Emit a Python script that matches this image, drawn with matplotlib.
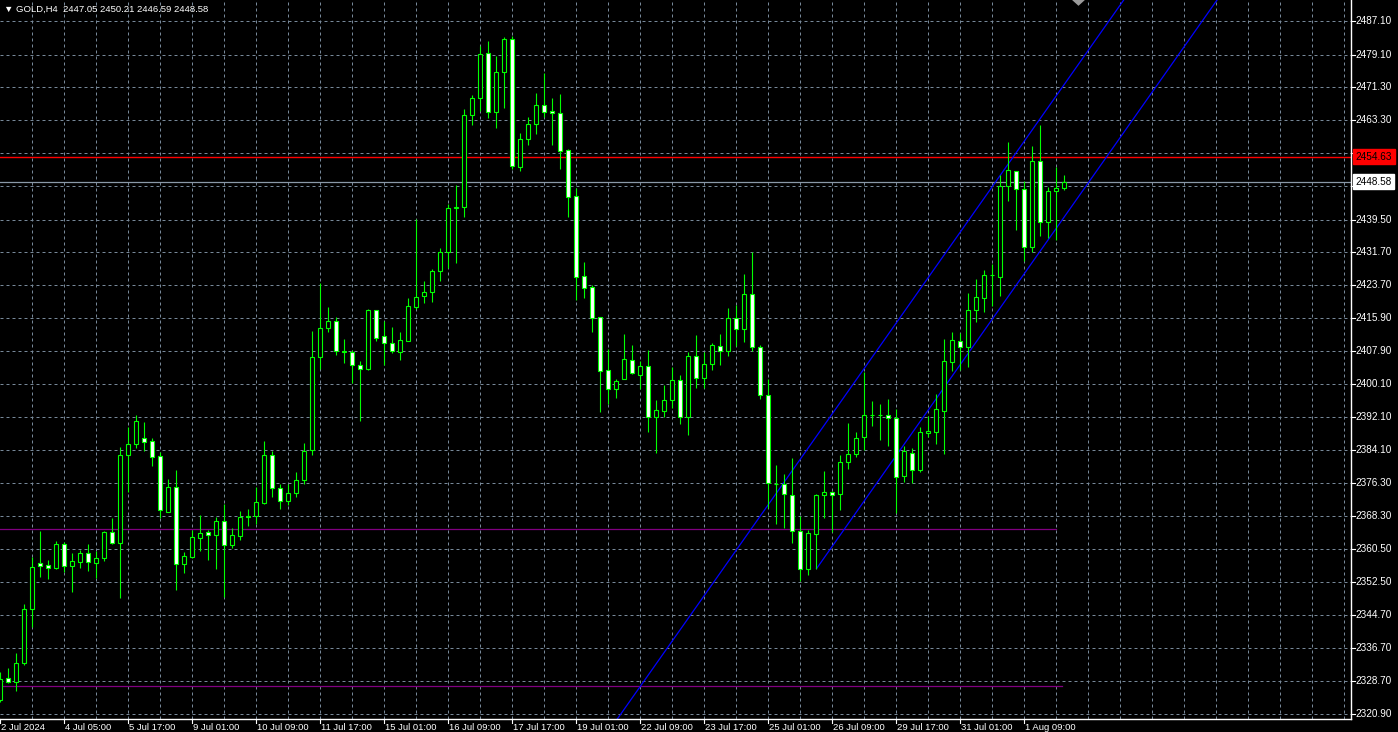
import numpy as np
import matplotlib
matplotlib.use('Agg')
import matplotlib.pyplot as plt
import matplotlib.transforms as mtransforms
from matplotlib.patches import Polygon

# GOLD H4 candles, bar 0 = 2 Jul 2024
opens = [2324.2, 2329.41, 2328.59, 2333.01, 2345.97, 2357.01, 2356.53, 2355.95, 2361.57, 2356.43,
         2357.39, 2359.41, 2357.15, 2358.21, 2364.45, 2361.81, 2382.93, 2385.57, 2387.01, 2386.29,
         2382.69, 2369.39, 2375.25, 2356.77, 2358.59, 2363.01, 2364.45, 2363.87, 2367.09, 2361.47,
         2363.63, 2368.05, 2368.29, 2371.55, 2382.9, 2375.0, 2372.0, 2374.0, 2377.0, 2384.2,
         2406.45, 2413.41, 2415.09, 2407.8, 2407.65, 2404.53, 2403.57, 2417.73, 2411.49, 2409.81,
         2407.79, 2410.43, 2418.59, 2421.23, 2422.05, 2427.09, 2431.65, 2442.21, 2442.45, 2464.53,
         2468.61, 2479.41, 2465.25, 2474.85, 2482.77, 2452.19, 2458.77, 2462.37, 2466.93, 2465.49,
         2465.01, 2456.13, 2445.09, 2425.89, 2423.25, 2416.05, 2403.33, 2398.91, 2401.31, 2405.73,
         2402.27, 2404.36, 2392.19, 2393.63, 2396.27, 2400.93, 2392.19, 2406.69, 2401.55, 2404.77,
         2409.09, 2407.89, 2415.81, 2413.17, 2421.57, 2408.85, 2397.33, 2376.0, 2375.97, 2373.33,
         2364.76, 2355.71, 2364.11, 2373.33, 2374.05, 2373.57, 2381.25, 2383.17, 2387.39, 2392.5,
         2392.6, 2392.53, 2391.81, 2378.03, 2383.41, 2379.4, 2388.35, 2388.59, 2393.63, 2405.39,
         2410.29, 2408.85, 2417.73, 2420.75, 2426.1, 2425.79, 2447.56, 2451.09, 2446.77, 2432.85,
         2453.49, 2438.99, 2446.36, 2447.05]
highs = [2331.0, 2331.88, 2335.41, 2347.24, 2358.45, 2364.76, 2357.8, 2362.36, 2362.19, 2359.41,
         2360.2, 2361.57, 2359.96, 2364.76, 2367.81, 2384.85, 2389.65, 2392.6, 2390.92, 2387.01,
         2383.79, 2377.24, 2379.4, 2359.65, 2365.0, 2368.6, 2365.0, 2368.19, 2371.24, 2365.41,
         2369.56, 2370.04, 2375.25, 2386.36, 2384.0, 2376.0, 2376.0, 2379.0, 2386.0, 2412.76,
         2424.21, 2418.45, 2416.05, 2410.77, 2408.2, 2405.49, 2418.04, 2417.9, 2415.23, 2413.65,
         2412.52, 2420.68, 2439.57, 2424.76, 2427.64, 2432.61, 2443.24, 2447.8, 2465.97, 2469.4,
         2481.16, 2482.36, 2478.76, 2483.39, 2483.56, 2460.21, 2464.05, 2469.88, 2474.61, 2468.61,
         2469.64, 2456.37, 2447.15, 2429.32, 2423.8, 2416.1, 2408.37, 2401.24, 2412.04, 2409.4,
         2405.49, 2408.2, 2396.2, 2399.73, 2404.05, 2402.2, 2407.79, 2411.8, 2407.79, 2409.81,
         2412.04, 2418.28, 2419.0, 2426.44, 2431.65, 2409.33, 2401.17, 2380.6, 2378.44, 2382.21,
         2368.36, 2365.0, 2373.57, 2379.16, 2374.36, 2383.0, 2390.68, 2388.52, 2402.92, 2395.96,
         2395.24, 2396.44, 2393.97, 2385.16, 2384.61, 2389.65, 2392.36, 2397.64, 2410.84, 2412.52,
         2412.21, 2421.88, 2425.24, 2427.4, 2428.77, 2450.2, 2458.12, 2451.2, 2448.76, 2457.16,
         2462.2, 2447.25, 2452.05, 2450.21]
lows = [2323.72, 2328.28, 2326.43, 2332.6, 2341.65, 2353.65, 2353.24, 2355.64, 2354.99, 2350.19,
        2355.95, 2355.16, 2353.55, 2357.63, 2361.6, 2348.75, 2374.19, 2384.75, 2384.03, 2380.43,
        2367.81, 2369.3, 2350.6, 2354.61, 2358.21, 2360.03, 2357.8, 2355.71, 2348.85, 2360.68,
        2362.6, 2366.03, 2366.44, 2371.24, 2373.0, 2370.0, 2371.0, 2373.0, 2376.0, 2383.0,
        2403.57, 2412.59, 2406.93, 2405.15, 2400.21, 2391.23, 2403.4, 2410.43, 2404.67, 2407.41,
        2405.8, 2410.3, 2417.97, 2419.55, 2419.79, 2424.83, 2427.95, 2429.15, 2440.19, 2462.2,
        2465.63, 2463.95, 2461.55, 2466.35, 2451.57, 2451.23, 2457.33, 2460.04, 2464.19, 2457.4,
        2451.64, 2440.19, 2420.2, 2420.75, 2412.59, 2393.39, 2395.17, 2396.75, 2401.2, 2402.5,
        2398.77, 2388.59, 2383.55, 2392.19, 2394.35, 2390.51, 2387.8, 2399.15, 2399.15, 2403.4,
        2404.6, 2406.76, 2409.16, 2410.12, 2408.03, 2396.44, 2370.21, 2366.44, 2365.55, 2361.81,
        2352.76, 2354.13, 2355.71, 2367.95, 2364.59, 2369.8, 2379.71, 2382.45, 2384.2, 2390.03,
        2386.6, 2385.23, 2369.01, 2376.59, 2376.21, 2378.92, 2387.39, 2385.57, 2383.17, 2403.16,
        2403.4, 2404.05, 2414.99, 2417.25, 2418.76, 2421.23, 2444.03, 2437.0, 2429.56, 2431.79,
        2435.56, 2435.15, 2434.6, 2446.59]
closes = [2329.17, 2328.59, 2333.01, 2345.97, 2356.05, 2356.43, 2355.81, 2361.57, 2356.43, 2357.49,
          2359.41, 2357.39, 2358.21, 2364.45, 2361.81, 2383.0, 2385.57, 2391.16, 2386.19, 2382.59,
          2369.73, 2375.25, 2356.77, 2358.76, 2363.25, 2364.21, 2363.87, 2367.09, 2361.47, 2363.73,
          2368.05, 2368.36, 2371.65, 2382.93, 2375.0, 2372.0, 2374.0, 2377.0, 2384.0, 2406.45,
          2413.41, 2415.09, 2407.89, 2407.85, 2404.53, 2403.57, 2417.73, 2411.01, 2409.81, 2407.89,
          2410.53, 2418.69, 2420.99, 2422.05, 2427.09, 2431.65, 2442.21, 2442.45, 2464.53, 2468.61,
          2479.17, 2465.25, 2474.85, 2482.77, 2452.43, 2458.77, 2462.37, 2466.93, 2465.39, 2465.01,
          2456.03, 2444.99, 2425.79, 2423.15, 2415.95, 2403.23, 2398.91, 2400.69, 2405.97, 2402.61,
          2404.36, 2392.19, 2393.8, 2396.13, 2400.93, 2392.19, 2406.69, 2401.55, 2404.77, 2409.33,
          2407.89, 2415.81, 2413.17, 2421.57, 2408.99, 2397.33, 2376.21, 2376.1, 2373.57, 2364.76,
          2355.71, 2364.21, 2373.33, 2374.05, 2373.47, 2381.25, 2383.17, 2387.01, 2392.53, 2392.6,
          2392.5, 2391.81, 2377.79, 2383.96, 2379.4, 2388.45, 2388.83, 2393.97, 2405.49, 2410.6,
          2408.85, 2417.73, 2420.85, 2426.13, 2426.2, 2447.49, 2451.4, 2446.77, 2432.85, 2453.49,
          2438.99, 2446.36, 2447.08, 2448.58]

price_ticks = [2487.10, 2479.10, 2471.30, 2463.30, 2455.40, 2447.50, 2439.50, 2431.70, 2423.70,
               2415.90, 2407.90, 2400.10, 2392.10, 2384.10, 2376.30, 2368.30, 2360.50, 2352.50,
               2344.70, 2336.70, 2328.70, 2320.90]
date_bars = [0, 8, 16, 24, 32, 40, 48, 56, 64, 72, 80, 88, 96, 104, 112, 120, 128]
date_labels = ['2 Jul 2024', '4 Jul 05:00', '5 Jul 17:00', '9 Jul 01:00', '10 Jul 09:00',
               '11 Jul 17:00', '15 Jul 01:00', '16 Jul 09:00', '17 Jul 17:00', '19 Jul 01:00',
               '22 Jul 09:00', '23 Jul 17:00', '25 Jul 01:00', '26 Jul 09:00', '29 Jul 17:00',
               '31 Jul 01:00', '1 Aug 09:00']

red_level = 2454.63
bid = 2448.58
purple_levels = [2365.17, 2327.56]
purple_end_bars = [131.9, 132.75]
# equidistant channel: base line through two points, upper line shifted
chan_x = [102.0, 134.4]
chan_y = [2355.71, 2444.03]
chan_shift = 31.8

GREEN = '#00ff00'
GRID = '#778899'
FONT = ['Liberation Sans', 'DejaVu Sans']

W, H = 1398, 732
fig = plt.figure(figsize=(W / 100, H / 100), dpi=100, facecolor='black')
ax = fig.add_axes([0, 13 / H, 1351 / W, 1 - 13 / H])
ax.set_facecolor('black')
ax.set_xlim(-0.06, 1351 / 8 - 0.06)
ax.set_ylim(2319.64, 2492.2)
ax.set_xticks([])
ax.set_yticks([])
for s in ['top', 'left']:
    ax.spines[s].set_visible(False)
for s in ['right', 'bottom']:
    ax.spines[s].set_color('white')
    ax.spines[s].set_linewidth(1)

# grid
for p in price_ticks:
    ax.axhline(p, color=GRID, lw=0.72, ls=(0, (3, 3)), zorder=0)
for b in range(4, 170, 4):
    ax.axvline(b, color=GRID, lw=0.72, ls=(0, (3, 3)), zorder=0)

# levels
ax.axhline(red_level, color='#ff0000', lw=1.0, zorder=1)
ax.axhline(bid, color='#8a99a8', lw=0.9, zorder=1)
for lv, eb in zip(purple_levels, purple_end_bars):
    ax.plot([-1, eb], [lv, lv], color='#800080', lw=0.9, zorder=1)

# channel
slope = (chan_y[1] - chan_y[0]) / (chan_x[1] - chan_x[0])
xb = np.array([chan_x[0], 200])
ax.plot(xb, chan_y[0] + slope * (xb - chan_x[0]), color='#0000ff', lw=0.9, zorder=1)
xa = np.array([50, 200])
ax.plot(xa, chan_y[0] + chan_shift + slope * (xa - chan_x[0]), color='#0000ff', lw=0.9, zorder=1)

# candles
o = np.array(opens); c = np.array(closes)
bars = np.arange(len(o))
ax.vlines(bars, lows, highs, color=GREEN, lw=0.8, zorder=2)
face = ['black' if cc >= oo else 'white' for oo, cc in zip(o, c)]
ax.bar(bars, np.abs(c - o), bottom=np.minimum(o, c), width=0.5, color=face,
       edgecolor=GREEN, linewidth=0.8, zorder=3)

# price axis labels (those hidden behind the level boxes are not drawn)
ty = mtransforms.blended_transform_factory(ax.transAxes, ax.transData)
for p in price_ticks:
    ax.plot([1.0, 1.003], [p, p], transform=ty, color='white', lw=0.8, clip_on=False)
    if abs(p - red_level) < 3.5 or abs(p - bid) < 3.5:
        continue
    ax.text(1.0035, p, '%.2f' % p, transform=ty, ha='left', va='center', color='white',
            fontsize=7.2, family=FONT, clip_on=False)
ax.text(1.0035, red_level, '%.2f' % red_level, transform=ty, ha='left', va='center', color='black',
        fontsize=7.2, family=FONT, clip_on=False, zorder=5,
        bbox=dict(boxstyle='square,pad=0.25', fc='#ff0000', ec='#ff0000'))
ax.text(1.0035, bid, '%.2f' % bid, transform=ty, ha='left', va='center', color='black',
        fontsize=7.2, family=FONT, clip_on=False, zorder=5,
        bbox=dict(boxstyle='square,pad=0.25', fc='white', ec='white'))

# time axis labels
tx = mtransforms.blended_transform_factory(ax.transData, ax.transAxes)
for b, lab in zip(date_bars, date_labels):
    ax.plot([b, b], [0, -0.006], transform=tx, color='white', lw=0.8, clip_on=False)
    ax.text(b + 0.1, -0.005, lab, transform=tx, ha='left', va='top', color='white',
            fontsize=6.8, family=FONT, clip_on=False)

# chart shift marker
sx = len(bars) + 0.75
ax.add_patch(Polygon([[sx - 0.8, 2492.2], [sx + 0.8, 2492.2], [sx, 2490.8]],
                     closed=True, fc='#9a9a9a', ec='none', zorder=4))

fig.text(4 / W, 1 - 9 / H, '\u25bc GOLD,H4  2447.05 2450.21 2446.59 2448.58', color='white',
         fontsize=6.8, family=FONT, va='center', ha='left')

fig.savefig('out.png', dpi=100, facecolor='black')
